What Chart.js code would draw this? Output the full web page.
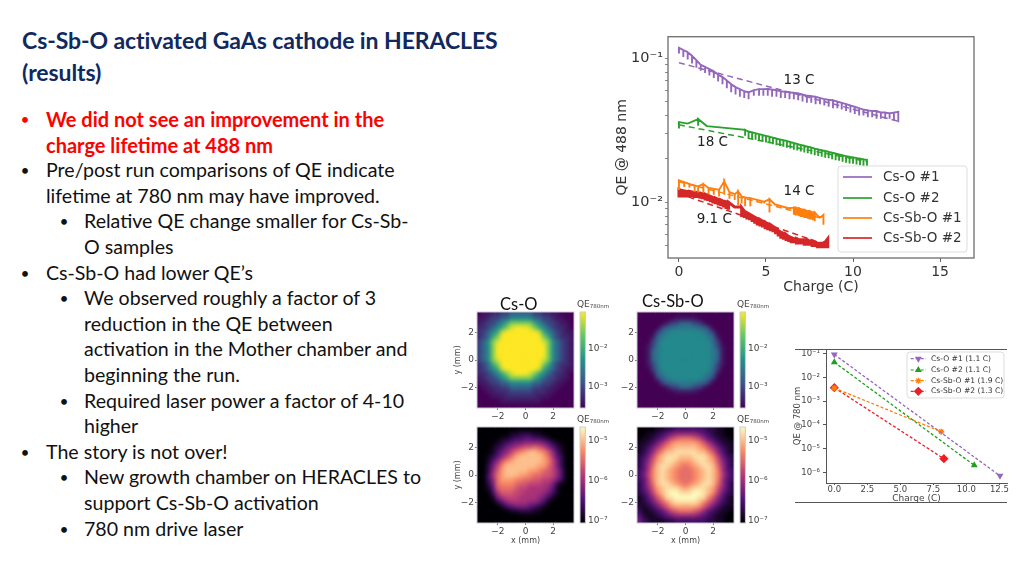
<!DOCTYPE html>
<html>
<head>
<meta charset="utf-8">
<title>Cs-Sb-O activated GaAs cathode in HERACLES</title>
<script src="https://cdn.jsdelivr.net/npm/chart.js@4/dist/chart.umd.min.js"></script>
<style>
    html, body { margin: 0; padding: 0; background: #fff; }
    #slide { position: relative; width: 1024px; height: 576px; overflow: hidden; font-family: Lato, sans-serif; }
    #slide canvas { position: absolute; filter: blur(0.45px); }
    .title { position: absolute; left: 22px; color: #10295f; font-weight: 700; font-size: 23px; letter-spacing: -0.08px; white-space: nowrap; line-height: 30px; }
    .line { position: absolute; color: #111; font-size: 19.6px; line-height: 26px; white-space: nowrap; }
    .red { color: #f00; font-weight: 700; font-size: 20px; }
    .dot { position: absolute; width: 20px; text-align: center; color: #111; font-size: 13px; line-height: 26px; font-weight: 700; }
    .dot.reddot { color: #f00; }
    .tag { position: absolute; color: #111; font-size: 16.5px; line-height: 22px; white-space: nowrap; z-index: 2; }
</style>
</head>
<body>
<div id="slide">
    <div class="title" style="top:25px">Cs-Sb-O activated GaAs cathode in HERACLES</div>
    <div class="title" style="top:57px">(results)</div>
    <div class="tag" style="left:500px;top:293px">Cs-O</div>
    <div class="tag" style="left:642px;top:290px">Cs-Sb-O</div>
</div>

<script>
// Slide text: [indent level, has bullet, red, text]
const slideLines = [
    [0, true, true, 'We did not see an improvement in the'],
    [0, false, true, 'charge lifetime at 488 nm'],
    [0, true, false, 'Pre/post run comparisons of QE indicate'],
    [0, false, false, 'lifetime at 780 nm may have improved.'],
    [1, true, false, 'Relative QE change smaller for Cs-Sb-'],
    [1, false, false, 'O samples'],
    [0, true, false, 'Cs-Sb-O had lower QE’s'],
    [1, true, false, 'We observed roughly a factor of 3'],
    [1, false, false, 'reduction in the QE between'],
    [1, false, false, 'activation in the Mother chamber and'],
    [1, false, false, 'beginning the run.'],
    [1, true, false, 'Required laser power a factor of 4-10'],
    [1, false, false, 'higher'],
    [0, true, false, 'The story is not over!'],
    [1, true, false, 'New growth chamber on HERACLES to'],
    [1, false, false, 'support Cs-Sb-O activation'],
    [1, true, false, '780 nm drive laser']
];

// QE @ 488 nm vs charge
const seriesNames = ['Cs-O #1', 'Cs-O #2', 'Cs-Sb-O #1', 'Cs-Sb-O #2'];
const seriesColors = ['#9467bd', '#2ca02c', '#ff7f0e', '#d62728'];

const csO1X = [0, .25, .5, .75, 1, 1.25, 1.5, 1.75, 2, 2.25, 2.5, 2.75, 3, 3.25, 3.5, 3.75, 4, 4.3, 4.6, 4.85, 5.1, 5.35, 5.6, 5.85, 6.1, 6.35, 6.6, 6.85, 7.1, 7.35, 7.6, 7.85, 8.1, 8.35, 8.6, 8.85, 9.1, 9.35, 9.6, 9.85, 10.1, 10.35, 10.6, 10.85, 11.1, 11.35, 11.6, 11.85, 12.1, 12.35, 12.6];
const csO1Top = [.118, .114, .110, .104, .097, .090, .087, .084, .081, .077, .074, .070, .066, .063, .061, .059, .058, .060, .061, .061, .0612, .0605, .060, .059, .0585, .058, .0575, .057, .056, .055, .0545, .054, .053, .052, .0515, .051, .050, .049, .048, .047, .046, .045, .044, .0435, .043, .043, .042, .042, .0415, .042, .0425];
const csO1Low = [.108, .102, .098, .092, .086, .082, .079, .076, .073, .069, .066, .062, .058, .056, .054, .053, .052, .055, .055, .055, .055, .054, .054, .053, .053, .052, .052, .051, .050, .049, .049, .048, .048, .047, .046, .045, .045, .044, .043, .042, .041, .040, .040, .039, .039, .038, .038, .038, .038, .037, .036];

const csO2X = [0, .5, 1.1, 1.6, 2.5, 3.8, 4, 4.2, 4.4, 4.6, 4.8, 5, 5.2, 5.4, 5.6, 5.8, 6, 6.2, 6.4, 6.6, 6.8, 7, 7.2, 7.4, 7.6, 7.8, 8, 8.2, 8.4, 8.6, 8.8, 9, 9.2, 9.4, 9.6, 9.8, 10, 10.2, 10.4, 10.6, 10.8];
const csO2Top = [.036, .0352, .0378, .0338, .033, .0318, .031, .0306, .0302, .0297, .0293, .0289, .0285, .0281, .0277, .0273, .027, .0266, .0262, .0258, .0254, .025, .0247, .0243, .024, .0236, .0233, .023, .0227, .0224, .0221, .0218, .0215, .0212, .0209, .0207, .0205, .0203, .0201, .0199, .0197];
const csO2Low = [.0325, .0352, .034, .0338, .033, .029, .0279, .0275, .0272, .0267, .0264, .026, .0257, .0253, .0249, .0246, .0243, .0239, .0236, .0232, .0229, .0225, .0222, .0219, .0216, .0212, .021, .0207, .0204, .0202, .0199, .0196, .0194, .0191, .0188, .0186, .0185, .0183, .0181, .0179, .0177];

const csSb1X = [0, .3, .6, .9, 1.1, 1.4, 1.7, 2, 2.3, 2.6, 2.9, 3.2, 3.4, 3.6, 3.8, 4.1, 4.5, 4.9, 5.2, 5.5, 5.9, 6.3, 6.6, 6.7, 6.8, 6.9, 7, 7.1, 7.2, 7.3, 7.4, 7.5, 7.6, 7.7, 7.8, 8, 8.15, 8.3];
const csSb1Top = [.0142, .0138, .0134, .0131, .0129, .0134, .0126, .0124, .0122, .014, .0118, .0114, .0119, .011, .0108, .0107, .0104, .0101, .0105, .0097, .0094, .0091, .0092, .0092, .0091, .0091, .009, .0089, .0089, .0088, .0087, .0087, .0086, .0085, .0085, .008, .0079, .0082];
const csSb1Low = [.0122, .0128, .0126, .0118, .0117, .0116, .0114, .0113, .011, .0113, .0106, .0104, .0096, .0098, .0094, .0094, .01, .0098, .0085, .0095, .0092, .009, .0082, .0081, .0081, .008, .0079, .0079, .0078, .0078, .0077, .0076, .0076, .0075, .0074, .0079, .0078, .007];

const csSb2X = [0, .15, .3, .45, .6, .75, .9, 1.05, 1.2, 1.35, 1.5, 1.65, 1.8, 1.95, 2.1, 2.25, 2.4, 2.55, 2.7, 2.85, 3.2, 3.55, 3.6, 3.75, 3.9, 4.05, 4.2, 4.35, 4.5, 4.65, 4.8, 4.95, 5.1, 5.25, 5.4, 5.55, 5.7, 5.85, 6, 6.15, 6.3, 6.45, 6.6, 6.75, 6.9, 7.05, 7.2, 7.35, 7.5, 7.65, 7.8, 7.95, 8.1, 8.25, 8.4, 8.55];
const csSb2Top = [.0123, .0121, .012, .0119, .0119, .0118, .0117, .0117, .0116, .0115, .0114, .0112, .011, .0108, .0107, .0105, .0104, .0102, .0101, .01, .0093, .0093, .0092, .0087, .0085, .0083, .0081, .0079, .0077, .0076, .0074, .0073, .0071, .007, .0068, .0066, .0064, .0062, .0061, .006, .0058, .0057, .0056, .0056, .0055, .0055, .0055, .0055, .0054, .0054, .0053, .0052, .0052, .0052, .0053, .0056];
const csSb2Low = [.0108, .0108, .0108, .0108, .0108, .0108, .0107, .0107, .0106, .0105, .0103, .0102, .01, .0098, .0097, .0095, .0094, .0092, .009, .0089, .0093, .0093, .0079, .0078, .0076, .0075, .0073, .0071, .0069, .0068, .0067, .0065, .0064, .0063, .0062, .006, .0058, .0056, .0055, .0054, .0053, .0052, .0052, .0051, .0051, .0051, .005, .005, .005, .0049, .0049, .0048, .0048, .0048, .0048, .0048];

// Dashed lifetime fits: [x start, x end], [y start, y end]
const fitX = [[0, 12.6], [0, 10.8], [0, 8.3], [0, 8.6]];
const fitY = [[.093, .0365], [.0345, .0192], [.0139, .0077], [.0115, .005]];

const noteText = ['13 C', '18 C', '14 C', '9.1 C'];
const noteX = [6.9, 1.93, 6.9, 2.03];
const noteY = [.0699, .0261, .01183, .00755];

const y488Ticks = [.005, .006, .007, .008, .009, .01, .02, .03, .04, .05, .06, .07, .08, .09, .1];
const y488Major = [.01, .1];
const y488Labels = ['10⁻²', '10⁻¹'];
const x488Ticks = [0, 5, 10, 15];

// QE @ 780 nm start and end of run
const qe780Names = ['Cs-O #1 (1.1 C)', 'Cs-O #2 (1.1 C)', 'Cs-Sb-O #1 (1.9 C)', 'Cs-Sb-O #2 (1.3 C)'];
const qe780Colors = ['#9467bd', '#1fa01f', '#ff7f0e', '#ee1c25'];
const qe780X = [[0, 12.55], [0, 10.6], [0, 8.1], [0, 8.3]];
const qe780Y = [[.093, 7.2e-7], [.044, 2e-6], [.0036, 5.2e-5], [.0037, 3.8e-6]];
const y780Ticks = [1e-6, 1e-5, 1e-4, 1e-3, 1e-2, 1e-1];
const y780Labels = ['10⁻⁶', '10⁻⁵', '10⁻⁴', '10⁻³', '10⁻²', '10⁻¹'];
const x780Ticks = [0, 2.5, 5, 7.5, 10, 12.5];

// QE maps, one hex digit per cell (0 = bottom of colour bar, f = top), top row first
const mapCsOStart = [
    '011223355555332211000',
    '112335577777553321100',
    '1233579ccccc975332110',
    '223579cefffec97532210',
    '23579efffffffe9753211',
    '2359cfffffffffc953221',
    '357cefffffffffec75321',
    '357cfffffffffffc75321',
    '357cfffffffffffc75321',
    '357cfffffffffffc75321',
    '357cefffffffffec75321',
    '2359cfffffffffc953221',
    '23579efffffffe9753211',
    '223579cefffec97532210',
    '1233579ccccc975332110',
    '112335577777553321100',
    '011223355555332211000',
    '001122233333222110000',
    '000111222222211100000',
    '000001111111110000000',
    '000000000000000000000'
];
const mapCsSbStart = [
    '000000000000000000000',
    '000000001111100000000',
    '000000133555331000000',
    '000003556666655300000',
    '000035677777776530000',
    '000156777777777651000',
    '000357777777777753000',
    '001367777777777763100',
    '001567777777777765100',
    '001567777777777765100',
    '001567777777777765100',
    '001367777777777763100',
    '000357777777777753000',
    '000156777777777651000',
    '000035677777776530000',
    '000003556666655300000',
    '000000133555331000000',
    '000000001111100000000',
    '000000000000000000000',
    '000000000000000000000',
    '000000000000000000000'
];
const mapCsOEnd = [
    '000000000000000000000',
    '000000011222110000000',
    '000001123344332100000',
    '000012345566665421000',
    '000123567899a98642100',
    '00013568abcddcb963100',
    '0012468acdddddca74200',
    '001469bcddddddcb85200',
    '00258bdddddddcca85200',
    '00269cdddddccba986300',
    '0037acdddccbaa9986300',
    '0036acccbbaa998875300',
    '0025abbba998887752000',
    '00149aaa9887777641000',
    '000379998877776531000',
    '000157888777765310000',
    '000024677776653100000',
    '000001345554321000000',
    '000000011222110000000',
    '000000000000000000000',
    '000000000000000000000'
];
const mapCsSbEnd = [
    '000011223333333221100',
    '001123456666654321100',
    '011234689aaa986432110',
    '1123579bcccccb9753211',
    '123579bcdddddcb975321',
    '12469bddeeeeeddb96421',
    '2358bdeeedddeeedb8532',
    '2469cdeedcccdeedc9642',
    '247adeedcbabcdeeda742',
    '347bdedcbaaabcdedb743',
    '358bdedcbaaabcdedb853',
    '347bdedcbaaabcdedb743',
    '247adeedcbabcdeeda742',
    '2469cdeeedcdeeedc9642',
    '2358bdeffeeeffedb8532',
    '12469beefffffeeb96421',
    '123579bdeeeeedb975321',
    '2123579bcccccb9753211',
    '311234689aaa986432110',
    '421123456666654321100',
    '532111223333333221100'
];
const mapTicks = [-2, 0, 2];
const mapTickLabels = ['−2', '0', '2'];
const barTopValues = [1e-3, 1e-2];
const barTopLabels = ['10⁻³', '10⁻²'];
const barBottomValues = [1e-7, 1e-6, 1e-5];
const barBottomLabels = ['10⁻⁷', '10⁻⁶', '10⁻⁵'];

const viridis = ['#440154', '#3b528b', '#21918c', '#5ec962', '#fde725'];
const magma = ['#000004', '#51127c', '#b73779', '#fc8961', '#fcfdbf'];

const DEJAVU = '"DejaVu Sans", sans-serif';

Chart.defaults.font.family = DEJAVU;
Chart.defaults.animation = false;

document.addEventListener('DOMContentLoaded', () => {
    drawSlideText();
    drawChart488();
    drawChart780();

    drawMap(mapCsOStart, viridis, { left: 453, top: 298, right: 612, bottom: 424 }, { left: 477, top: 312, right: 574, bottom: 408 },
        { title: true, xTitle: false, barValues: barTopValues, barLabels: barTopLabels, barMax: .087, barMin: 2.8e-4 });
    drawMap(mapCsSbStart, viridis, { left: 612, top: 298, right: 772, bottom: 424 }, { left: 637, top: 312, right: 734, bottom: 408 },
        { title: false, xTitle: false, barValues: barTopValues, barLabels: barTopLabels, barMax: .087, barMin: 2.8e-4 });
    drawMap(mapCsOEnd, magma, { left: 453, top: 413, right: 612, bottom: 546 }, { left: 477, top: 427, right: 574, bottom: 523 },
        { title: true, xTitle: true, barValues: barBottomValues, barLabels: barBottomLabels, barMax: 2.2e-5, barMin: 8.7e-8 });
    drawMap(mapCsSbEnd, magma, { left: 612, top: 413, right: 772, bottom: 546 }, { left: 637, top: 427, right: 734, bottom: 523 },
        { title: false, xTitle: true, barValues: barBottomValues, barLabels: barBottomLabels, barMax: 2.2e-5, barMin: 8.7e-8 });
});

function drawSlideText() {
    const slide = document.getElementById('slide');
    slideLines.forEach((item, i) => {
        const top = 106 + i * 25.6;
        const textLeft = item[0] === 0 ? 46 : 84;
        const el = document.createElement('div');
        el.className = 'line' + (item[2] ? ' red' : '');
        el.style.left = textLeft + 'px';
        el.style.top = top + 'px';
        el.textContent = item[3];
        slide.appendChild(el);
        if (item[1]) {
            const dot = document.createElement('div');
            dot.className = 'dot' + (item[2] ? ' reddot' : '');
            dot.style.left = (item[0] === 0 ? 15 : 54) + 'px';
            dot.style.top = top + 'px';
            dot.textContent = '•';
            slide.appendChild(dot);
        }
    });
}

// Canvas placed at rect, with the plot area landing exactly on plot
function addCanvas(rect) {
    const canvas = document.createElement('canvas');
    canvas.width = rect.right - rect.left;
    canvas.height = rect.bottom - rect.top;
    canvas.style.left = rect.left + 'px';
    canvas.style.top = rect.top + 'px';
    document.getElementById('slide').appendChild(canvas);
    return canvas;
}

function layoutFor(rect, plot) {
    return { padding: { top: plot.top - rect.top, right: rect.right - plot.right, left: 0, bottom: 0 } };
}

// Vertical comb: line runs along the top values and drops to the low values
function comb(xs, tops, lows) {
    const points = [];
    xs.forEach((x, i) => {
        points.push({ x: x, y: tops[i] });
        points.push({ x: x, y: lows[i] });
        points.push({ x: x, y: tops[i] });
    });
    return points;
}

function framePlugin(color, width) {
    return {
        id: 'frame',
        afterDatasetsDraw(chart) {
            const a = chart.chartArea;
            const ctx = chart.ctx;
            ctx.save();
            ctx.strokeStyle = color;
            ctx.lineWidth = width;
            ctx.strokeRect(a.left, a.top, a.right - a.left, a.bottom - a.top);
            ctx.restore();
        }
    };
}

function notesPlugin() {
    return {
        id: 'notes',
        afterDatasetsDraw(chart) {
            const ctx = chart.ctx;
            ctx.save();
            ctx.font = '13.5px ' + DEJAVU;
            ctx.fillStyle = '#222';
            ctx.textAlign = 'center';
            ctx.textBaseline = 'middle';
            noteText.forEach((t, i) => {
                ctx.fillText(t, chart.scales.x.getPixelForValue(noteX[i]), chart.scales.y.getPixelForValue(noteY[i]));
            });
            ctx.restore();
        }
    };
}

// Legend drawn in the plot, box and rows in canvas pixels
function legendPlugin(cfg) {
    return {
        id: 'boxLegend',
        afterDraw(chart) {
            const ctx = chart.ctx;
            ctx.save();
            ctx.beginPath();
            ctx.roundRect(cfg.x, cfg.y, cfg.w, cfg.h, 3);
            ctx.fillStyle = 'rgba(255,255,255,0.85)';
            ctx.fill();
            ctx.strokeStyle = '#ddd';
            ctx.lineWidth = 1;
            ctx.stroke();
            ctx.font = cfg.font + 'px ' + DEJAVU;
            ctx.textBaseline = 'middle';
            cfg.names.forEach((name, i) => {
                const y = cfg.rowY[i];
                ctx.strokeStyle = cfg.colors[i];
                ctx.lineWidth = cfg.lineWidth;
                ctx.setLineDash(cfg.dash || []);
                ctx.beginPath();
                ctx.moveTo(cfg.lineX[0], y);
                ctx.lineTo(cfg.lineX[1], y);
                ctx.stroke();
                ctx.setLineDash([]);
                if (cfg.markers) {
                    const m = cfg.markers[i];
                    ctx.fillStyle = cfg.colors[i];
                    Chart.helpers.drawPoint(ctx, { pointStyle: m.style, radius: m.radius, rotation: m.rotation, borderWidth: m.style === 'star' ? 1.4 : 0 },
                        (cfg.lineX[0] + cfg.lineX[1]) / 2, y);
                }
                ctx.fillStyle = '#333';
                ctx.fillText(name, cfg.textX, y);
            });
            ctx.restore();
        }
    };
}

function drawChart488() {
    const rect = { left: 612, top: 26, right: 985, bottom: 296 };
    const plot = { left: 668, top: 34, right: 974, bottom: 258 };
    const combs = [
        comb(csO1X, csO1Top, csO1Low),
        comb(csO2X, csO2Top, csO2Low),
        comb(csSb1X, csSb1Top, csSb1Low),
        comb(csSb2X, csSb2Top, csSb2Low)
    ];
    const datasets = combs.map((points, i) => ({
        label: seriesNames[i],
        data: points,
        showLine: true,
        borderColor: seriesColors[i],
        borderWidth: i === 3 ? 3 : 1.9,
        pointRadius: 0,
        order: 1
    }));
    fitX.forEach((xs, i) => {
        datasets.push({
            label: seriesNames[i] + ' fit',
            data: xs.map((x, k) => ({ x: x, y: fitY[i][k] })),
            showLine: true,
            borderColor: seriesColors[i],
            borderWidth: 1.5,
            borderDash: [6, 4],
            pointRadius: 0,
            order: 2
        });
    });

    new Chart(addCanvas(rect), {
        type: 'scatter',
        data: { datasets: datasets },
        options: {
            responsive: false,
            layout: layoutFor(rect, plot),
            plugins: { legend: { display: false }, tooltip: { enabled: false } },
            scales: {
                x: {
                    type: 'linear', min: -0.63, max: 16.95,
                    afterFit(s) { s.height = rect.bottom - plot.bottom; },
                    afterBuildTicks(s) { s.ticks = x488Ticks.map(v => ({ value: v })); },
                    grid: { drawOnChartArea: false, color: '#666', tickLength: 4 },
                    border: { display: false },
                    ticks: { color: '#333', font: { size: 14 }, padding: 2, maxRotation: 0 },
                    title: { display: true, text: 'Charge (C)', color: '#333', font: { size: 14 }, padding: { top: 2, bottom: 0 } }
                },
                y: {
                    type: 'logarithmic', min: .00411, max: .141,
                    afterFit(s) { s.width = plot.left - rect.left; },
                    afterBuildTicks(s) { s.ticks = y488Ticks.map(v => ({ value: v })); },
                    grid: { drawOnChartArea: false, color: '#888', tickLength: 3 },
                    border: { display: false },
                    ticks: {
                        autoSkip: false, color: '#333', font: { size: 14.5 }, padding: 2,
                        callback(v) { const i = y488Major.indexOf(v); return i < 0 ? '' : y488Labels[i]; }
                    },
                    title: { display: true, text: 'QE @ 488 nm', color: '#333', font: { size: 14 }, padding: { top: 2, bottom: 0 } }
                }
            }
        },
        plugins: [framePlugin('#777', 1.4), notesPlugin(), legendPlugin({
            x: 838 - rect.left, y: 166 - rect.top, w: 129, h: 86,
            font: 13.5, names: seriesNames, colors: seriesColors, lineWidth: 1.7,
            rowY: [177 - rect.top, 198 - rect.top, 218 - rect.top, 238 - rect.top],
            lineX: [843 - rect.left, 872 - rect.left], textX: 883 - rect.left
        })]
    });
}

function drawChart780() {
    const rect = { left: 792, top: 340, right: 1020, bottom: 505 };
    const plot = { left: 826, top: 349, right: 1007, bottom: 483 };
    const markers = [
        { style: 'triangle', radius: 4, rotation: 180 },
        { style: 'triangle', radius: 4, rotation: 0 },
        { style: 'star', radius: 3, rotation: 0 },
        { style: 'rectRot', radius: 4.6, rotation: 0 }
    ];
    const datasets = qe780X.map((xs, i) => ({
        label: qe780Names[i],
        data: xs.map((x, k) => ({ x: x, y: qe780Y[i][k] })),
        showLine: true,
        borderColor: qe780Colors[i],
        borderWidth: 1.3,
        borderDash: [3, 2],
        pointStyle: markers[i].style,
        pointRotation: markers[i].rotation,
        pointRadius: markers[i].radius,
        pointBackgroundColor: qe780Colors[i],
        pointBorderColor: qe780Colors[i],
        pointBorderWidth: markers[i].style === 'star' ? 1.4 : 0
    }));

    const rules = {
        id: 'rules',
        afterDraw(chart) {
            const ctx = chart.ctx;
            ctx.save();
            ctx.strokeStyle = '#555';
            ctx.lineWidth = 1;
            [349.5, 502.5].forEach(y => {
                ctx.beginPath();
                ctx.moveTo(795 - rect.left, y - rect.top);
                ctx.lineTo(1007 - rect.left, y - rect.top);
                ctx.stroke();
            });
            ctx.restore();
        }
    };

    new Chart(addCanvas(rect), {
        type: 'scatter',
        data: { datasets: datasets },
        options: {
            responsive: false,
            layout: layoutFor(rect, plot),
            plugins: { legend: { display: false }, tooltip: { enabled: false } },
            scales: {
                x: {
                    type: 'linear', min: -0.63, max: 13.08,
                    afterFit(s) { s.height = rect.bottom - plot.bottom; },
                    afterBuildTicks(s) { s.ticks = x780Ticks.map(v => ({ value: v })); },
                    grid: { drawOnChartArea: false, color: '#555', tickLength: 2 },
                    border: { color: '#555' },
                    ticks: {
                        color: '#444', font: { size: 8.5 }, padding: 0, maxRotation: 0,
                        callback(v) { return v.toFixed(1); }
                    },
                    title: { display: true, text: 'Charge (C)', color: '#444', font: { size: 9 }, padding: { top: 0, bottom: 1 }, align: 'center' }
                },
                y: {
                    type: 'logarithmic', min: 3.6e-7, max: .158,
                    afterFit(s) { s.width = plot.left - rect.left; },
                    afterBuildTicks(s) { s.ticks = y780Ticks.map(v => ({ value: v })); },
                    grid: { drawOnChartArea: false, color: '#555', tickLength: 3 },
                    border: { color: '#555' },
                    ticks: {
                        autoSkip: false, color: '#444', font: { size: 8.5 }, padding: 3,
                        callback(v) { const i = y780Ticks.indexOf(v); return i < 0 ? '' : y780Labels[i]; }
                    },
                    title: { display: true, text: 'QE @ 780 nm', color: '#444', font: { size: 8.5 }, padding: { top: 1, bottom: 0 } }
                }
            }
        },
        plugins: [rules, legendPlugin({
            x: 907 - rect.left, y: 352 - rect.top, w: 97, h: 46,
            font: 7.6, names: qe780Names, colors: qe780Colors, lineWidth: 1.2, dash: [3, 2], markers: markers,
            rowY: [358.7 - rect.top, 370 - rect.top, 380.7 - rect.top, 391.3 - rect.top],
            lineX: [910.7 - rect.left, 926 - rect.left], textX: 931 - rect.left
        })]
    });
}

function colourAt(stops, t) {
    const pos = Math.min(t, 1) * (stops.length - 1);
    const i = Math.min(Math.floor(pos), stops.length - 2);
    const f = pos - i;
    const a = hexToRgb(stops[i]);
    const b = hexToRgb(stops[i + 1]);
    return 'rgb(' + a.map((c, k) => Math.round(c + (b[k] - c) * f)).join(',') + ')';
}

function hexToRgb(hex) {
    return [1, 3, 5].map(i => parseInt(hex.slice(i, i + 2), 16));
}

// Softens the rectangles of a map so it reads as a continuous image
const softenPlot = {
    id: 'softenPlot',
    afterDatasetsDraw(chart) {
        const a = chart.chartArea;
        const w = a.right - a.left;
        const h = a.bottom - a.top;
        const ctx = chart.ctx;
        ctx.save();
        ctx.beginPath();
        ctx.rect(a.left, a.top, w, h);
        ctx.clip();
        ctx.filter = 'blur(2.2px)';
        ctx.drawImage(chart.canvas, a.left, a.top, w, h, a.left, a.top, w, h);
        ctx.restore();
    }
};

function colourBarPlugin(stops, cfg) {
    return {
        id: 'colourBar',
        afterDraw(chart) {
            const a = chart.chartArea;
            const ctx = chart.ctx;
            const x = a.right + 6;
            const w = 5.4;
            const h = a.bottom - a.top;
            ctx.save();
            const grad = ctx.createLinearGradient(0, a.bottom, 0, a.top);
            stops.forEach((c, i) => grad.addColorStop(i / (stops.length - 1), c));
            ctx.fillStyle = grad;
            ctx.fillRect(x, a.top, w, h);
            ctx.strokeStyle = '#ccc';
            ctx.lineWidth = 1;
            ctx.strokeRect(x, a.top, w, h);

            ctx.fillStyle = '#444';
            ctx.font = '9px ' + DEJAVU;
            ctx.textBaseline = 'middle';
            const span = Math.log10(cfg.barMax) - Math.log10(cfg.barMin);
            cfg.barValues.forEach((v, i) => {
                const y = a.top + (Math.log10(cfg.barMax) - Math.log10(v)) / span * h;
                ctx.fillText(cfg.barLabels[i], x + w + 2.5, y);
            });
            ctx.fillText('QE', x - 3, a.top - 7);
            const qeWidth = ctx.measureText('QE').width;
            ctx.font = '5.5px ' + DEJAVU;
            ctx.fillText('780nm', x - 3 + qeWidth, a.top - 5.5);
            ctx.restore();
        }
    };
}

function drawMap(grid, stops, rect, plot, cfg) {
    const cells = [];
    const colours = [];
    grid.forEach((row, r) => {
        row.split('').forEach((ch, c) => {
            cells.push({ x: -3.5 + (c + .5) / 3, y: 3.5 - (r + .5) / 3 });
            colours.push(colourAt(stops, parseInt(ch, 16) / 15));
        });
    });

    new Chart(addCanvas(rect), {
        type: 'scatter',
        data: {
            datasets: [{
                label: 'QE map',
                data: cells,
                pointStyle: 'rect',
                pointRadius: 3.5,
                pointBorderWidth: 0,
                pointBackgroundColor: colours
            }]
        },
        options: {
            responsive: false,
            layout: layoutFor(rect, plot),
            plugins: { legend: { display: false }, tooltip: { enabled: false } },
            scales: {
                x: {
                    type: 'linear', min: -3.5, max: 3.5,
                    afterFit(s) { s.height = rect.bottom - plot.bottom; },
                    afterBuildTicks(s) { s.ticks = mapTicks.map(v => ({ value: v })); },
                    grid: { drawOnChartArea: false, color: '#777', tickLength: 2 },
                    border: { display: false },
                    ticks: {
                        color: '#444', font: { size: 9 }, padding: 1, maxRotation: 0,
                        callback(v) { return mapTickLabels[mapTicks.indexOf(v)]; }
                    },
                    title: { display: cfg.xTitle, text: 'x (mm)', color: '#444', font: { size: 8 }, padding: { top: 1, bottom: 0 } }
                },
                y: {
                    type: 'linear', min: -3.5, max: 3.5,
                    afterFit(s) { s.width = plot.left - rect.left; },
                    afterBuildTicks(s) { s.ticks = mapTicks.map(v => ({ value: v })); },
                    grid: { drawOnChartArea: false, color: '#777', tickLength: 2 },
                    border: { display: false },
                    ticks: {
                        color: '#444', font: { size: 9 }, padding: 1,
                        callback(v) { return mapTickLabels[mapTicks.indexOf(v)]; }
                    },
                    title: { display: cfg.title, text: 'y (mm)', color: '#444', font: { size: 8 }, padding: { top: 0, bottom: 0 } }
                }
            }
        },
        plugins: [softenPlot, framePlugin('#c9c4d2', 1), colourBarPlugin(stops, cfg)]
    });
}
</script>
</body>
</html>
